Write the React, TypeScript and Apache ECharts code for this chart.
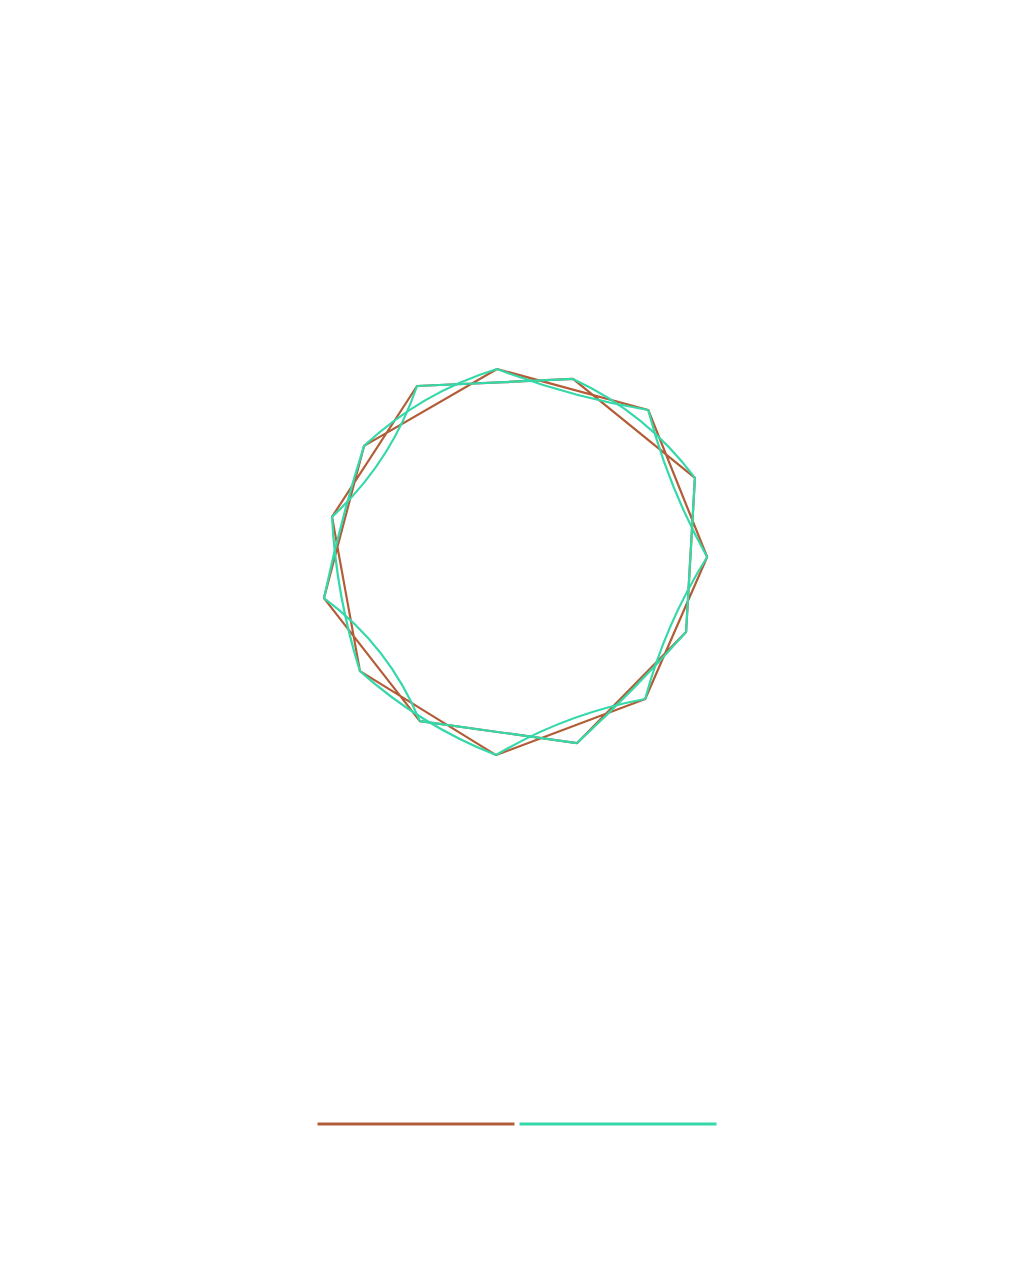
import React, { useEffect, useRef } from "react";
import * as echarts from "echarts";

// Ring vertices in angular order (degrees clockwise from 12 o'clock) and their radii
const vertexAngles: number[] = [354.1, 17.0, 40.8, 64.7, 88.5, 112.5, 136.9, 161.7, 186.2, 211.4, 235.2, 259.4, 283.7, 307.2, 330.4];
const vertexRadii: number[] = [9.7, 9.57, 10.04, 9.84, 9.51, 9.15, 9.38, 9.54, 9.71, 9.32, 9.56, 9.82, 9.52, 9.6, 10.12];
// Order in which both series visit the vertices (every second one, closing the ring)
const pathOrder: number[] = [0, 2, 4, 6, 8, 10, 12, 14, 1, 3, 5, 7, 9, 11, 13, 0];
// Bend of each green segment along pathOrder (negative bows toward the centre)
const segmentBend: number[] = [-0.05, -0.064, -0.076, -0.09, 0.09, 0.064, -0.127, 0, 0.127, 0, 0.025, 0, -0.14, 0.025, 0.115];
const seriesNames: string[] = ["Straight", "Smooth"];
const colors: string[] = ["#b25d38", "#35d8a9"];

const legendIcon = "path://M0,0 H197 V3 H0 Z";

export default function App() {
  const ref = useRef<HTMLDivElement>(null);
  useEffect(() => {
    if (!ref.current) return;
    const chart = echarts.init(ref.current, undefined, { renderer: "svg" });
    const lineData = pathOrder.map((v) => [vertexRadii[v], vertexAngles[v]]);
    const nodes = vertexAngles.map((a, i) => ({ name: "v" + i, value: [vertexRadii[i], a] }));
    const links = segmentBend.map((c, i) => ({
      source: pathOrder[i],
      target: pathOrder[i + 1],
      lineStyle: { curveness: c },
    }));
    chart.setOption({
      animation: false,
      color: colors,
      legend: {
        top: 1104,
        left: "center",
        itemWidth: 197,
        itemHeight: 14,
        itemGap: 5,
        formatter: () => "",
        data: seriesNames.map((n, i) => ({ name: n, icon: legendIcon, itemStyle: { color: colors[i] } })),
      },
      polar: { center: [509, 554], radius: 220 },
      angleAxis: {
        type: "value",
        min: 0,
        max: 360,
        startAngle: 90,
        clockwise: true,
        show: false,
      },
      radiusAxis: { type: "value", min: 0, max: 11, show: false },
      series: [
        {
          name: seriesNames[0],
          type: "line",
          coordinateSystem: "polar",
          z: 1,
          data: lineData,
          symbol: "none",
          lineStyle: { width: 2.2, color: colors[0] },
          itemStyle: { color: colors[0] },
        },
        {
          name: seriesNames[1],
          type: "graph",
          coordinateSystem: "polar",
          layout: "none",
          z: 5,
          zlevel: 0,
          data: nodes,
          links,
          symbolSize: 0,
          label: { show: false },
          emphasis: { disabled: true },
          itemStyle: { color: colors[1] },
          lineStyle: { width: 2.2, color: colors[1], opacity: 1 },
        },
      ],
    });
    return () => chart.dispose();
  }, []);
  return <div ref={ref} style={{ width: 1018, height: 1260 }} />;
}
